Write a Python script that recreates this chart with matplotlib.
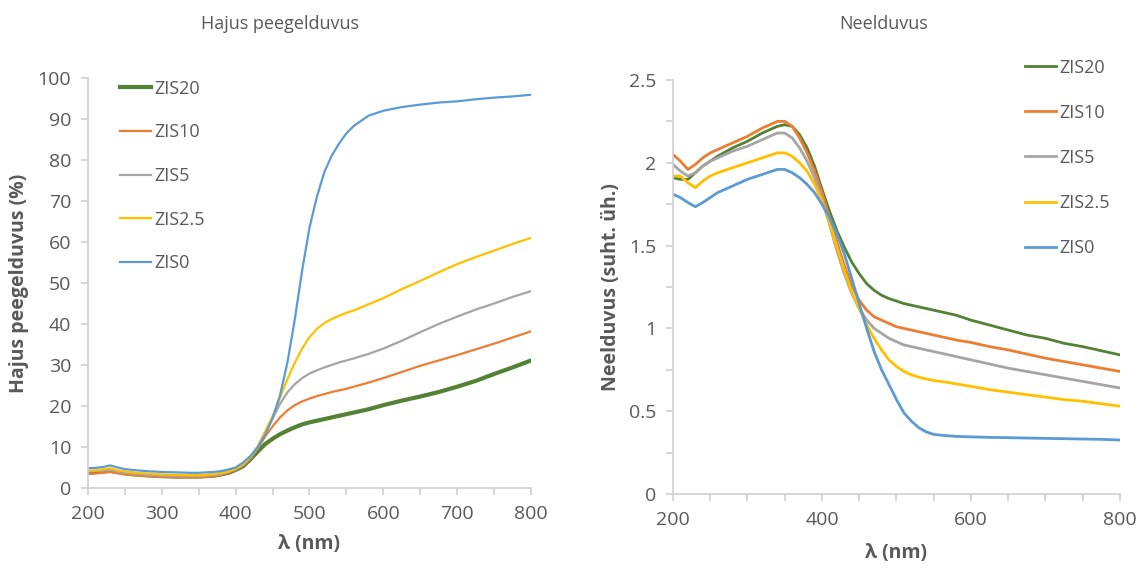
import matplotlib.pyplot as plt
from matplotlib.ticker import MultipleLocator

plt.rcParams['font.family'] = ['Open Sans', 'DejaVu Sans']

# wavelength grid (nm)
wl = [200, 210, 220, 230, 240, 250, 260, 280, 300, 320, 340, 350, 360, 370, 380, 390,
      400, 410, 420, 430, 440, 450, 460, 470, 480, 490, 500, 510, 520, 530, 540, 550,
      560, 580, 600, 625, 650, 675, 700, 725, 750, 775, 800]

labels = ['ZIS20', 'ZIS10', 'ZIS5', 'ZIS2.5', 'ZIS0']
colors = ['#548235', '#ED7D31', '#A5A5A5', '#FFC000', '#5B9BD5']

# diffuse reflectance (%)
refl_zis20 = [3.8, 3.9, 4.0, 4.2, 3.9, 3.6, 3.4, 3.1, 2.9, 2.8, 2.8, 2.8, 2.9, 3.0, 3.3, 3.7,
              4.4, 5.3, 7.0, 8.9, 10.7, 12.0, 13.1, 14.0, 14.8, 15.5, 16.0, 16.4, 16.8, 17.2, 17.6, 18.0,
              18.4, 19.2, 20.2, 21.3, 22.3, 23.4, 24.7, 26.1, 27.8, 29.4, 31.1]
refl_zis10 = [3.4, 3.5, 3.7, 3.9, 3.6, 3.3, 3.1, 2.9, 2.7, 2.6, 2.6, 2.6, 2.7, 2.9, 3.2, 3.7,
              4.4, 5.4, 7.2, 9.6, 12.6, 15.0, 17.2, 18.9, 20.2, 21.1, 21.8, 22.4, 22.9, 23.4, 23.8, 24.2,
              24.7, 25.7, 26.8, 28.3, 29.8, 31.1, 32.4, 33.8, 35.2, 36.7, 38.2]
refl_zis5 = [4.0, 4.1, 4.2, 4.4, 4.0, 3.7, 3.5, 3.2, 3.0, 2.9, 2.9, 2.9, 3.0, 3.2, 3.4, 3.9,
             4.6, 5.6, 7.4, 10.0, 13.5, 17.0, 20.5, 23.3, 25.3, 26.8, 27.9, 28.7, 29.4, 30.0, 30.6, 31.1,
             31.6, 32.7, 34.0, 35.9, 38.0, 40.0, 41.8, 43.5, 45.0, 46.6, 48.0]
refl_zis25 = [4.2, 4.3, 4.5, 4.8, 4.3, 4.0, 3.8, 3.5, 3.3, 3.2, 3.1, 3.1, 3.2, 3.4, 3.6, 4.0,
              4.7, 5.8, 7.6, 10.2, 13.8, 17.5, 22.0, 26.5, 30.5, 34.0, 36.8, 38.8, 40.2, 41.2, 42.0, 42.7,
              43.3, 44.8, 46.3, 48.5, 50.5, 52.6, 54.6, 56.3, 57.9, 59.5, 61.0]
refl_zis0 = [4.8, 4.9, 5.1, 5.5, 5.0, 4.6, 4.4, 4.1, 3.9, 3.8, 3.7, 3.7, 3.8, 3.9, 4.1, 4.5,
             5.0, 6.2, 7.8, 10.0, 13.0, 17.0, 22.5, 30.5, 41.0, 53.0, 63.5, 71.0, 77.0, 81.0, 84.0, 86.5,
             88.3, 90.8, 92.0, 92.9, 93.5, 94.0, 94.3, 94.8, 95.2, 95.5, 95.9]

# absorbance (arb. units)
abs_zis20 = [1.91, 1.90, 1.90, 1.94, 1.98, 2.01, 2.04, 2.09, 2.13, 2.18, 2.22, 2.23, 2.22, 2.17, 2.09, 1.98,
             1.84, 1.71, 1.59, 1.49, 1.40, 1.33, 1.27, 1.23, 1.20, 1.18, 1.165, 1.15, 1.14, 1.13, 1.12, 1.11,
             1.10, 1.08, 1.05, 1.02, 0.99, 0.96, 0.94, 0.91, 0.89, 0.865, 0.84]
abs_zis10 = [2.05, 2.01, 1.96, 1.99, 2.03, 2.06, 2.08, 2.12, 2.16, 2.21, 2.25, 2.25, 2.22, 2.15, 2.06, 1.95,
             1.82, 1.67, 1.52, 1.38, 1.26, 1.17, 1.11, 1.07, 1.05, 1.03, 1.01, 1.00, 0.99, 0.98, 0.97, 0.96,
             0.95, 0.93, 0.915, 0.89, 0.87, 0.845, 0.82, 0.80, 0.78, 0.76, 0.74]
abs_zis5 = [1.99, 1.95, 1.92, 1.94, 1.98, 2.01, 2.03, 2.07, 2.10, 2.14, 2.18, 2.18, 2.15, 2.09, 2.01, 1.91,
            1.78, 1.63, 1.47, 1.33, 1.21, 1.12, 1.05, 1.00, 0.97, 0.94, 0.92, 0.90, 0.89, 0.88, 0.87, 0.86,
            0.85, 0.83, 0.81, 0.785, 0.76, 0.74, 0.72, 0.70, 0.68, 0.66, 0.64]
abs_zis25 = [1.92, 1.92, 1.88, 1.85, 1.89, 1.92, 1.94, 1.97, 2.00, 2.03, 2.06, 2.06, 2.04, 2.00, 1.95, 1.87,
             1.77, 1.64, 1.49, 1.35, 1.22, 1.12, 1.02, 0.94, 0.87, 0.81, 0.77, 0.74, 0.72, 0.705, 0.695, 0.685,
             0.68, 0.665, 0.65, 0.63, 0.615, 0.60, 0.585, 0.57, 0.56, 0.545, 0.53]
abs_zis0 = [1.81, 1.79, 1.76, 1.735, 1.76, 1.79, 1.82, 1.86, 1.90, 1.93, 1.96, 1.96, 1.94, 1.91, 1.87, 1.82,
            1.75, 1.67, 1.57, 1.45, 1.30, 1.15, 1.00, 0.86, 0.75, 0.66, 0.57, 0.49, 0.44, 0.40, 0.375, 0.36,
            0.355, 0.348, 0.345, 0.342, 0.34, 0.338, 0.336, 0.334, 0.332, 0.33, 0.326]

refl = [refl_zis20, refl_zis10, refl_zis5, refl_zis25, refl_zis0]
absorb = [abs_zis20, abs_zis10, abs_zis5, abs_zis25, abs_zis0]

txt = '#595959'
axc = '#D0D0D0'

fig = plt.figure(figsize=(11.41, 5.69), dpi=100)
ax1 = fig.add_axes([0.0771, 0.1424, 0.3883, 0.7206])
ax2 = fig.add_axes([0.5898, 0.1318, 0.3918, 0.7276])

for i, lab in enumerate(labels):
    lw = 3.0 if i == 0 else 1.6
    ax1.plot(wl, refl[i], color=colors[i], lw=lw, label=lab)
    ax2.plot(wl, absorb[i], color=colors[i], lw=2.0, label=lab)

def style(ax, ymax, ymaj, ymin, xmaj):
    ax.set_xlim(200, 800)
    ax.set_ylim(0, ymax)
    for s in ['top', 'right']:
        ax.spines[s].set_visible(False)
    for s in ['left', 'bottom']:
        ax.spines[s].set_color(axc)
        ax.spines[s].set_linewidth(1.2)
    ax.xaxis.set_major_locator(MultipleLocator(xmaj))
    ax.xaxis.set_minor_locator(MultipleLocator(50))
    ax.yaxis.set_major_locator(MultipleLocator(ymaj))
    if ymin:
        ax.yaxis.set_minor_locator(MultipleLocator(ymin))
    ax.tick_params(which='both', direction='out', color=axc, width=1.2, length=5,
                   labelcolor=txt, labelsize=14)
    ax.tick_params(axis='y', pad=7)
    ax.tick_params(axis='x', pad=7)

style(ax1, 100, 10, None, 100)
style(ax2, 2.5, 0.5, 0.25, 200)
ax2.yaxis.set_major_formatter(plt.FuncFormatter(lambda v, p: '%g' % v))

ax1.set_ylabel('Hajus peegelduvus (%)', fontsize=14, fontweight='bold', color=txt, labelpad=6)
ax1.set_xlabel('λ (nm)', fontsize=14, fontweight='bold', color=txt, labelpad=8)
ax2.set_ylabel('Neelduvus (suht. üh.)', fontsize=14, fontweight='bold', color=txt, labelpad=6)
ax2.set_xlabel('λ (nm)', fontsize=14, fontweight='bold', color=txt, labelpad=10)

fig.text(0.2454, 0.958, 'Hajus peegelduvus', ha='center', va='center', fontsize=13, color=txt)
fig.text(0.774, 0.958, 'Neelduvus', ha='center', va='center', fontsize=13, color=txt)

leg_kw = dict(frameon=False, fontsize=13, handlelength=1.75, handletextpad=0.15,
              borderpad=0, borderaxespad=0, labelcolor=txt)
ax1.legend(loc='upper left', bbox_to_anchor=(0.105, 0.86), bbox_transform=fig.transFigure,
           labelspacing=1.42, **leg_kw)
ax2.legend(loc='upper left', bbox_to_anchor=(0.898, 0.897), bbox_transform=fig.transFigure,
           labelspacing=1.5, **leg_kw)

fig.savefig('out.png', dpi=100)
